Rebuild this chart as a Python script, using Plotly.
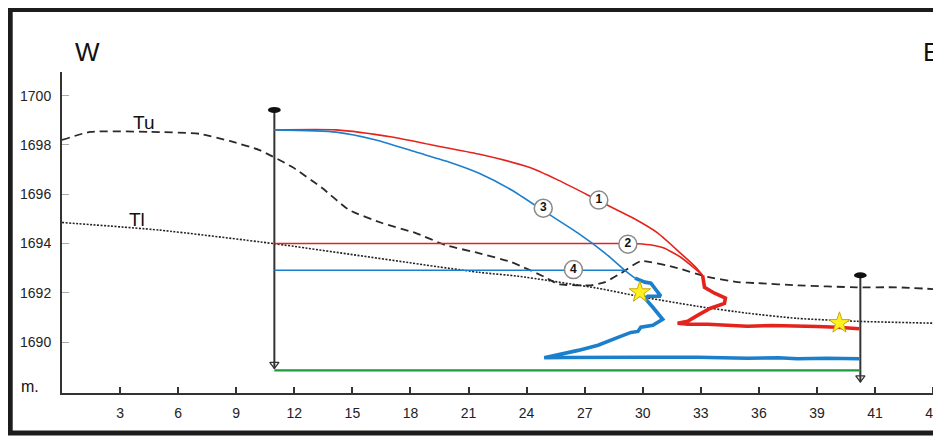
import plotly.graph_objects as go

# ---------------- data (x in metres along section, y in metres elevation) -------------
tu_x = [0, 1.46, 4.54, 7.11, 8.66, 10.2, 11.9, 13.44, 14.83, 16.53, 18.28, 19.82, 21.52, 23.22,
        24.96, 25.63, 27.33, 28.05, 28.87, 29.9, 31.8, 33.2, 34.9, 35.92, 37.98, 41.07, 43.12, 45.23]
tu_y = [1698.2, 1698.53, 1698.53, 1698.45, 1698.16, 1697.79, 1697.1, 1696.25, 1695.36, 1694.83,
        1694.42, 1693.93, 1693.61, 1693.24, 1692.63, 1692.35, 1692.3, 1692.43, 1692.79, 1693.28,
        1693.0, 1692.67, 1692.43, 1692.39, 1692.3, 1692.22, 1692.22, 1692.14]

tl_x = [0, 5.06, 10.97, 21.52, 23.57, 27.69, 29.75, 32.83, 35.4, 37.98, 41.07, 45.23]
tl_y = [1694.85, 1694.54, 1693.99, 1692.83, 1692.67, 1692.18, 1691.86, 1691.45, 1691.17,
        1690.96, 1690.84, 1690.76]

r1_x = [10.97, 14.16, 17.04, 19.1, 21.52, 24.09, 25.63, 27.18, 28.36, 29.59, 30.78, 31.96, 32.68, 33.09]
r1_y = [1698.61, 1698.61, 1698.32, 1698.0, 1697.63, 1697.1, 1696.57, 1695.96, 1695.48, 1694.99,
        1694.42, 1693.6, 1693.08, 1692.71]

r2_x = [10.97, 28.72, 29.75, 30.52, 31.13, 31.96, 32.68, 33.09]
r2_y = [1694.0, 1694.0, 1693.99, 1693.93, 1693.81, 1693.44, 1692.99, 1692.71]

rt_x = [33.09, 33.19, 33.71, 34.27, 34.22, 33.5, 32.83, 32.32, 31.8, 32.32, 33.35, 34.53, 35.4,
        36.7, 37.98, 39.0, 40.03, 41.2]
rt_y = [1692.71, 1692.22, 1691.98, 1691.78, 1691.57, 1691.37, 1691.08, 1690.84, 1690.76, 1690.72,
        1690.72, 1690.68, 1690.64, 1690.67, 1690.66, 1690.63, 1690.6, 1690.54]

b3_x = [10.97, 14.16, 16.22, 18.28, 20.13, 21.52, 23.22, 24.96, 26.66, 28.05, 29.08, 29.6]
b3_y = [1698.61, 1698.52, 1698.2, 1697.71, 1697.27, 1696.86, 1696.17, 1695.28, 1694.42, 1693.61,
        1692.91, 1692.59]

bt_x = [29.6, 30.11, 30.42, 30.68, 30.93, 30.26, 30.11, 30.52, 31.03, 30.52, 29.9, 29.75, 29.39,
        28.72, 27.69, 26.66, 24.91, 26.0, 27.69, 30.0, 32.83, 35.4, 37.0, 37.98, 39.5, 41.2]
bt_y = [1692.59, 1692.43, 1692.39, 1692.1, 1691.86, 1691.86, 1691.78, 1691.41, 1690.92, 1690.68,
        1690.6, 1690.43, 1690.39, 1690.19, 1689.87, 1689.66, 1689.36, 1689.37, 1689.36, 1689.38,
        1689.38, 1689.34, 1689.36, 1689.32, 1689.34, 1689.32]

b4_x = [10.97, 29.08]
b4_y = [1692.91, 1692.91]

green_x = [10.97, 41.24]
green_y = [1688.85, 1688.85]

well_x = [10.97, 41.24]
well_top = [1699.42, 1692.71]
well_bottom = [1688.92, 1688.37]

star_x = [29.85, 40.16]
star_y = [1692.02, 1690.77]

lab_x = [27.73, 29.23, 24.86, 26.42]
lab_y = [1695.76, 1693.97, 1695.43, 1692.94]
lab_text = ["<b>1</b>", "<b>2</b>", "<b>3</b>", "<b>4</b>"]

x_tickvals = [3, 6, 9, 12, 15, 18, 21, 24, 27, 30, 33, 36, 39, 42, 45]
x_ticktext = ["3", "6", "9", "12", "15", "18", "21", "24", "27", "30", "33", "36", "39", "41", "44"]
y_tickvals = [1690, 1692, 1694, 1696, 1698, 1700]

RED = "#e5231d"
BLUE = "#1b7fcc"
FONT = "Liberation Sans, Arial, sans-serif"

fig = go.Figure()

# surfaces
fig.add_trace(go.Scatter(x=tu_x, y=tu_y, mode="lines", line=dict(color="#2a2a2a", width=1.8, dash="8px,5px", shape="spline", smoothing=0.5)))
fig.add_trace(go.Scatter(x=tl_x, y=tl_y, mode="lines", line=dict(color="#222222", width=1.6, dash="2px,1.5px", shape="spline", smoothing=0.6)))

# wells
for wx, wt, wb in zip(well_x, well_top, well_bottom):
    fig.add_trace(go.Scatter(x=[wx, wx], y=[wt, wb], mode="lines", line=dict(color="#333333", width=2)))
    fig.add_trace(go.Scatter(x=[wx], y=[wb + 0.17], mode="markers",
                             marker=dict(symbol="triangle-down-open", size=8, color="#333333", line=dict(width=1.3))))
    fig.add_shape(type="circle", xref="x", yref="y", x0=wx - 0.33, x1=wx + 0.33, y0=wt - 0.12, y1=wt + 0.12,
                  fillcolor="#111111", line=dict(color="#111111", width=0))

# green base
fig.add_trace(go.Scatter(x=green_x, y=green_y, mode="lines", line=dict(color="#1e9a3c", width=2.2)))

# curves
fig.add_trace(go.Scatter(x=r1_x, y=r1_y, mode="lines", line=dict(color=RED, width=1.6, shape="spline", smoothing=0.6)))
fig.add_trace(go.Scatter(x=r2_x, y=r2_y, mode="lines", line=dict(color=RED, width=1.6, shape="spline", smoothing=0.4)))
fig.add_trace(go.Scatter(x=b3_x, y=b3_y, mode="lines", line=dict(color=BLUE, width=1.6, shape="spline", smoothing=0.6)))
fig.add_trace(go.Scatter(x=b4_x, y=b4_y, mode="lines", line=dict(color=BLUE, width=1.6)))
fig.add_trace(go.Scatter(x=rt_x, y=rt_y, mode="lines", line=dict(color=RED, width=3.6)))
fig.add_trace(go.Scatter(x=bt_x, y=bt_y, mode="lines", line=dict(color=BLUE, width=3.6)))

# stars
fig.add_trace(go.Scatter(x=star_x, y=star_y, mode="markers",
                         marker=dict(symbol="star", size=16, color="#fff01e", line=dict(color="#c9a800", width=1))))

# circled labels
fig.add_trace(go.Scatter(x=lab_x, y=lab_y, mode="markers+text", text=lab_text, textposition="middle center",
                         textfont=dict(family=FONT, size=12, color="#111111"),
                         marker=dict(symbol="circle", size=18, color="white", line=dict(color="#8a8a8a", width=1.5))))

# page body has an 8px margin, so margins are reduced by 8 to keep the plot area placement
fig.update_layout(
    width=941, height=437,
    margin=dict(l=54, r=8, t=64, b=52, pad=0),
    paper_bgcolor="white", plot_bgcolor="white",
    showlegend=False,
    font=dict(family=FONT, size=14, color="#222222"),
    xaxis=dict(range=[0, 45.2], tickvals=x_tickvals, ticktext=x_ticktext, showgrid=False, zeroline=False,
               showline=True, linecolor="#333333", linewidth=2, ticks="inside", ticklen=6, tickwidth=1.5,
               tickcolor="#333333", tickfont=dict(size=14, color="#222222"), ticklabelstandoff=6),
    yaxis=dict(range=[1687.93, 1700.96], tickvals=y_tickvals, showgrid=False, zeroline=False,
               showline=True, linecolor="#333333", linewidth=2, ticks="inside", ticklen=7, tickwidth=1.2,
               tickcolor="#aaaaaa", tickfont=dict(size=14, color="#222222"), ticklabelstandoff=6),
)

# frame
fig.add_shape(type="rect", xref="paper", yref="paper", x0=-0.0592, x1=1.03, y0=-0.1246, y1=1.1947,
              line=dict(color="#1c1c1c", width=5), fillcolor="rgba(0,0,0,0)", layer="above")

fig.add_annotation(text="W", xref="paper", yref="paper", x=0.0296, y=1.062, xanchor="center", yanchor="middle",
                   showarrow=False, font=dict(family=FONT, size=26, color="#111111"))
fig.add_annotation(text="E", xref="paper", yref="paper", x=0.9818, y=1.062, xanchor="left", yanchor="middle",
                   showarrow=False, font=dict(family=FONT, size=26, color="#111111"))
fig.add_annotation(text="m.", xref="paper", yref="paper", x=-0.0364, y=0.02, xanchor="center", yanchor="middle",
                   showarrow=False, font=dict(family=FONT, size=16, color="#111111"))
fig.add_annotation(text="Tu", xref="x", yref="y", x=4.19, y=1698.93, xanchor="center", yanchor="middle",
                   showarrow=False, font=dict(family=FONT, size=19, color="#111111"))
fig.add_annotation(text="Tl", xref="x", yref="y", x=3.87, y=1694.99, xanchor="center", yanchor="middle",
                   showarrow=False, font=dict(family=FONT, size=19, color="#111111"))

fig.write_html("out.html")
